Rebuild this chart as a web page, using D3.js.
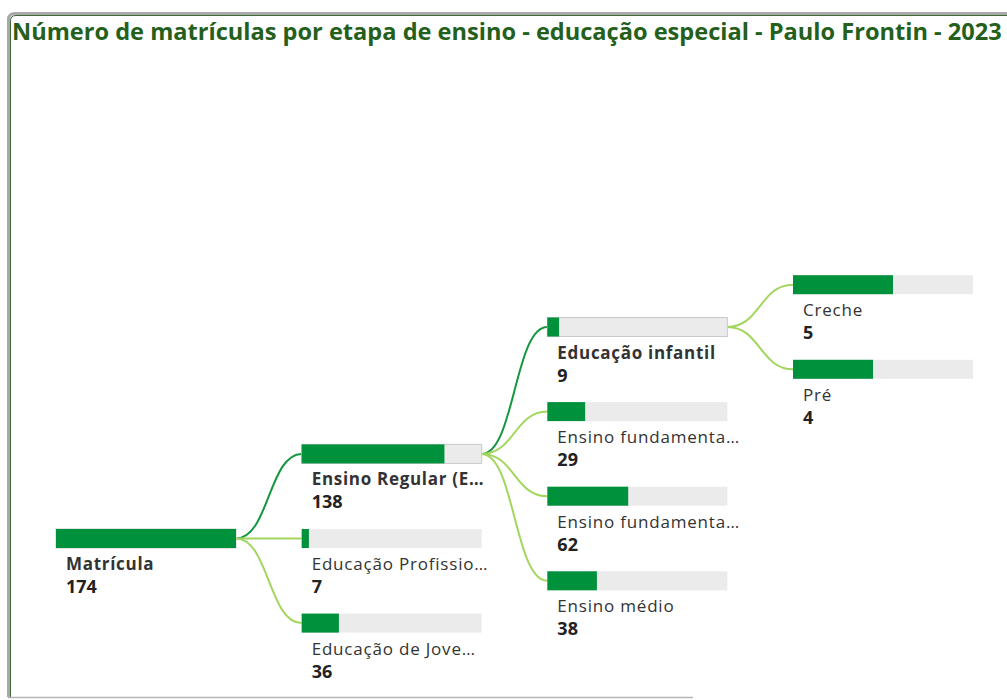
<!DOCTYPE html>
<html>
<head>
<meta charset="utf-8">
<script src="https://cdn.jsdelivr.net/npm/d3@7"></script>
<style>
  body { margin: 0; background: #fff; }
  svg { display: block; }
</style>
</head>
<body>
<div id="chart"></div>
<script>
var rootName = "Matrícula", rootValue = 174;
var level1Names = ["Ensino Regular (E…", "Educação Profissio…", "Educação de Jove…"];
var level1Values = [138, 7, 36];
var level2Names = ["Educação infantil", "Ensino fundamenta…", "Ensino fundamenta…", "Ensino médio"];
var level2Values = [9, 29, 62, 38];
var level3Names = ["Creche", "Pré"];
var level3Values = [5, 4];
// which child is expanded at each level
var expandedPath = ["Matrícula", "Ensino Regular (E…", "Educação infantil"];

var width = 1007, height = 700;
var barW = 180, barH = 19, rowGap = 84.6;

var svg = d3.select("#chart")
  .append("svg")
    .attr("width", width)
    .attr("height", height);

// frame
svg.append("path")
  .attr("d", "M8.5,697 L8.5,20 Q8.5,13.5 15,13.5 L1007,13.5")
  .attr("fill", "none").attr("stroke", "#a8a8a8").attr("stroke-width", 3);
svg.append("path")
  .attr("d", "M10.5,697 L10.5,21 Q10.5,15.5 16,15.5 L1007,15.5")
  .attr("fill", "none").attr("stroke", "#3f6b35").attr("stroke-width", 1);
svg.append("line")
  .attr("x1", 8).attr("x2", 693).attr("y1", 697.5).attr("y2", 697.5)
  .attr("stroke", "#b5b5b5").attr("stroke-width", 1.5);

// title
var title = svg.append("text")
  .attr("x", 12).attr("y", 40)
  .attr("font-family", "'Open Sans', sans-serif")
  .attr("font-weight", "bold")
  .attr("font-size", 20)
  .attr("fill", "#245f1c")
  .text("Número de matrículas por etapa de ensino - educação especial - Paulo Frontin - 2023");
var tw = title.node().getComputedTextLength();
title.attr("font-size", 20 * 990 / tw);

// build the tree
function mk(names, values) {
  return names.map(function(n, i) { return {name: n, value: values[i], children: []}; });
}
var l1 = mk(level1Names, level1Values);
var l2 = mk(level2Names, level2Values);
var l3 = mk(level3Names, level3Values);
l2[0].children = l3;
l1[0].children = l2;
var root = d3.hierarchy({name: rootName, value: rootValue, children: l1});

var x = d3.scaleLinear().domain([0, 3]).range([56, 793]);

// y layout: children centred on their parent
root.y0 = 529;
root.eachBefore(function(d) {
  if (d.children) {
    var n = d.children.length;
    d.children.forEach(function(c, i) {
      c.y0 = d.y0 + (i - (n - 1) / 2) * rowGap;
    });
  }
});

var nodes = root.descendants();
var link = d3.linkHorizontal()
  .x(function(p) { return p[0]; })
  .y(function(p) { return p[1]; });

// links
svg.append("g").selectAll("path")
  .data(root.links())
  .enter().append("path")
    .attr("d", function(l) {
      return link({
        source: [x(l.source.depth) + barW, l.source.y0 + barH / 2],
        target: [x(l.target.depth), l.target.y0 + barH / 2]
      });
    })
    .attr("fill", "none")
    .attr("stroke-width", 2)
    .attr("stroke", function(l) {
      return expandedPath.indexOf(l.target.data.name) >= 0 ? "#14973f" : "#a2d65e";
    });

var g = svg.append("g").selectAll("g")
  .data(nodes)
  .enter().append("g")
    .attr("transform", function(d) { return "translate(" + x(d.depth) + "," + d.y0 + ")"; });

// background bar
g.append("rect")
  .attr("width", barW).attr("height", barH)
  .attr("fill", "#ebebeb")
  .attr("stroke", function(d) { return d.children ? "#c9c9c9" : "none"; })
  .attr("stroke-width", 1);

// value bar, scaled on the parent value
g.append("rect")
  .attr("width", function(d) {
    var w = d3.scaleLinear().domain([0, d.parent ? d.parent.data.value : d.data.value]).range([0, barW]);
    return w(d.data.value);
  })
  .attr("height", barH)
  .attr("fill", "#00913c");

g.append("text")
  .attr("x", 10).attr("y", 41)
  .attr("font-family", "'Open Sans', sans-serif")
  .attr("font-size", 17)
  .attr("letter-spacing", function(d) { return d.children ? 0.7 : 0.8; })
  .attr("font-weight", function(d) { return d.children ? "bold" : "normal"; })
  .attr("fill", "#333")
  .text(function(d) { return d.data.name; });

g.append("text")
  .attr("x", 10).attr("y", 64)
  .attr("font-family", "'Open Sans', sans-serif")
  .attr("font-size", 18)
  .attr("font-weight", "bold")
  .attr("fill", "#222")
  .text(function(d) { return d.data.value; });
</script>
</body>
</html>
